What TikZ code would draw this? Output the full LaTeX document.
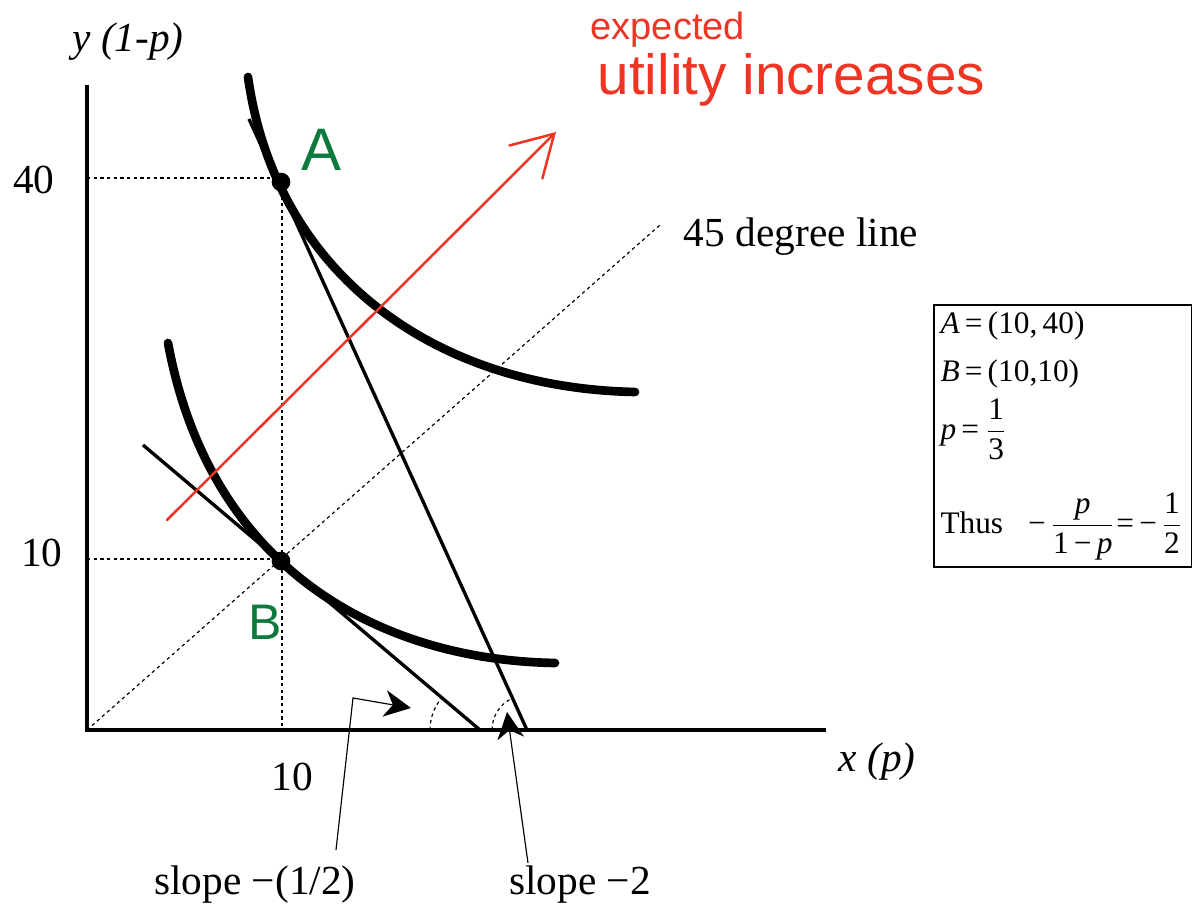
\documentclass[tikz,border=0pt]{standalone}
\usepackage{amsmath}
\usepackage{fontspec}
\setmainfont{Liberation Serif}
\newfontfamily\handfont{Liberation Sans}
\usetikzlibrary{arrows.meta,positioning,calc}
\definecolor{penred}{HTML}{EE3524}
\definecolor{pengreen}{HTML}{0B7A3B}
\newcommand{\tfr}[2]{$\dfrac{\text{#1}}{\text{#2}}$}
\tikzset{
  axisline/.style={line width=1.3pt},
  icurve/.style={line width=2.6pt, line cap=round},
  budget/.style={line width=1.0pt},
  guide/.style={line width=0.35pt, dash pattern=on 1pt off 1pt},
  pointer/.style={line width=0.35pt, -{Stealth[length=8pt,width=8pt,inset=2.5pt]}},
  dotpt/.style={circle, fill, inner sep=0pt, minimum size=5.6pt},
  lbl/.style={inner sep=0pt, font=\fontsize{12.4}{15}\selectfont},
  hand/.style={inner sep=0pt, text=penred},
  handgreen/.style={inner sep=0pt, text=pengreen, font=\handfont\fontsize{18}{20}\selectfont},
  summary/.style={draw, line width=0.5pt, align=left, inner sep=2pt,
    font=\fontsize{9.4}{14.4}\selectfont},
  redarrow/.style={draw=penred, line width=0.75pt, line cap=round,
    -{Straight Barb[length=12pt,width=14pt,line cap=round]}}
}

\begin{document}
\begin{tikzpicture}[x=0.3pt,y=-0.3pt]
  \useasboundingbox (0,0) rectangle (1192,909);

  % axes
  \coordinate (o) at (87,730);
  \coordinate (ytop) at (87,85);
  \coordinate (xend) at (826,730);
  \draw[axisline] (ytop) -- (o) -- (xend);

  \node[lbl, font=\fontsize{12.4}{15}\selectfont\itshape] (ylab) at (128,42) {y (1-p)};
  \node[lbl, font=\fontsize{12.4}{15}\selectfont\itshape] (xlab) at (877,762) {x (p)};
  \node[lbl] (y40) at (34,180) {40};
  \node[lbl] (y10) at (42,553) {10};
  \node[lbl] (x10) at (292,777) {10};

  % points A and B
  \node[dotpt] (ptA) at (281,182) {};
  \node[dotpt] (ptB) at (281,561) {};
  \coordinate (gA) at (87,178);
  \coordinate (gB) at (87,559);
  \coordinate (gx) at (282,730);
  \draw[guide] (gA) -- (282,178) -- (gx);
  \draw[guide] (gB) -- (282,559);

  % 45 degree line
  \coordinate (diagend) at (660,225);
  \draw[guide] (o) -- (diagend);
  \node[lbl] (deglabel) at (801,237) {45 degree line};

  % indifference curves
  \draw[icurve] (248,77) .. controls (275,270) and (430,388) .. (635,392);
  \draw[icurve] (168,343) .. controls (210,570) and (380,660) .. (555,663);

  % budget lines
  \coordinate (ss) at (249,119);
  \coordinate (se) at (527,730);
  \coordinate (bs) at (143,445);
  \coordinate (be) at (480,730);
  \draw[budget] (ss) -- (se);
  \draw[budget] (bs) -- (be);
  \draw[guide] (be) ++(-15pt,0) arc[start angle=180, end angle=140, radius=15pt];
  \draw[guide] (se) ++(-10.5pt,0) arc[start angle=180, end angle=115, radius=10.5pt];

  % expected utility direction
  \coordinate (rs) at (167,520);
  \coordinate (re) at (556,132);
  \draw[redarrow] (rs) -- (re);
  \node[hand, anchor=west, font=\handfont\fontsize{11.4}{13}\selectfont] (hw1) at (590,30) {expected};
  \node[hand, anchor=west, font=\handfont\fontsize{17}{19}\selectfont] (hw2) at (597,80) {utility increases};

  \node[handgreen] (labA) at (322,150) {A};
  \node[handgreen, font=\handfont\fontsize{15}{17}\selectfont] (labB) at (265,622) {B};

  % slope labels
  \node[lbl] (slopeh) at (255,885) {slope −(1/2)};
  \node[lbl] (slopet) at (580,885) {slope −2};
  \coordinate (lpfoot) at (336,850);
  \coordinate (lpknee) at (353,698);
  \coordinate (lptip) at (411,708);
  \coordinate (rpfoot) at (528,863);
  \coordinate (rptip) at (507,712);
  \draw[pointer] (lpfoot) -- (lpknee) -- (lptip);
  \draw[pointer] (rpfoot) -- (rptip);

  % summary box
  \node[summary, anchor=north west, text width=73.4pt] (sumbox) at (933,304)
    {\textit{A}\,=\,(10,\,40)\\
     \textit{B}\,=\,(10,10)\\[3pt]
     \textit{p}\,=\,\tfr{1}{3}\\[9pt]
     \mbox{Thus\hspace{0.8em}−\hspace{0.1em}$\dfrac{\textit{p}}{\text{1\,−\,}\textit{p}}$=\,−\hspace{0.1em}\tfr{1}{2}}\\[2pt]};
\end{tikzpicture}
\end{document}
